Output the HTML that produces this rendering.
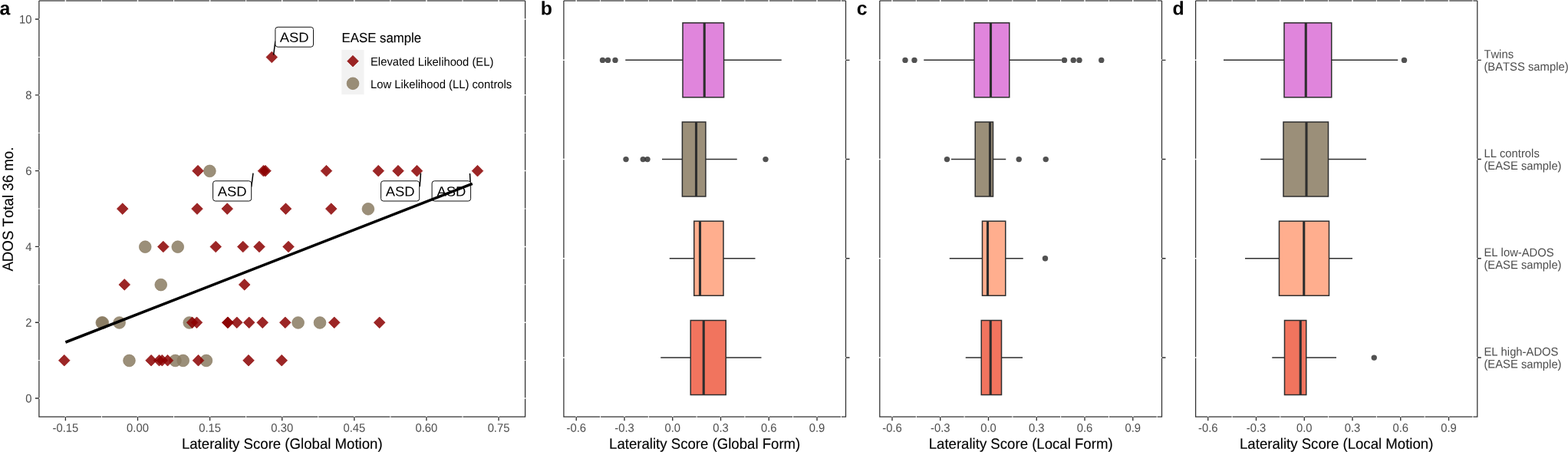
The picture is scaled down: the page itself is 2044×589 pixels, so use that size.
<!DOCTYPE html>
<html lang="en">
<head>
<meta charset="utf-8">
<title>Laterality scores figure</title>
<style>
html,body{margin:0;padding:0;background:#ffffff;}
body{width:2044px;height:589px;overflow:hidden;font-family:"Liberation Sans", Arial, Helvetica, sans-serif;}
svg{display:block;}
text{font-kerning:none;text-rendering:geometricPrecision;}
</style>
</head>
<body>
<svg width="2044" height="589" viewBox="0 0 2044 589" font-family='"Liberation Sans", Arial, Helvetica, sans-serif'>
<rect width="2044" height="589" fill="#ffffff"/>
<g>
<rect x="50.9" y="0" width="633.7" height="2" fill="#808080"/>
<path d="M50.9 1V543.2H684.6V1" fill="none" stroke="#303030" stroke-width="1.25" stroke-linejoin="miter"/>
<g stroke="#ffffff" fill="none"><path d="M132.44 0V544.1" stroke-width="1.0"/><path d="M226.56 0V544.1" stroke-width="1.0"/><path d="M320.66 0V544.1" stroke-width="1.0"/><path d="M414.77 0V544.1" stroke-width="1.0"/><path d="M508.88 0V544.1" stroke-width="1.0"/><path d="M603 0V544.1" stroke-width="1.0"/><path d="M50 469.6H685.5" stroke-width="1.0"/><path d="M50 370.8H685.5" stroke-width="1.0"/><path d="M50 272H685.5" stroke-width="1.0"/><path d="M50 173.2H685.5" stroke-width="1.0"/><path d="M50 74.4H685.5" stroke-width="1.0"/><path d="M85.39 0V544.1" stroke-width="1.5"/><path d="M179.5 0V544.1" stroke-width="1.5"/><path d="M273.61 0V544.1" stroke-width="1.5"/><path d="M367.72 0V544.1" stroke-width="1.5"/><path d="M461.83 0V544.1" stroke-width="1.5"/><path d="M555.94 0V544.1" stroke-width="1.5"/><path d="M650.05 0V544.1" stroke-width="1.5"/><path d="M50 519H685.5" stroke-width="1.5"/><path d="M50 420.2H685.5" stroke-width="1.5"/><path d="M50 321.4H685.5" stroke-width="1.5"/><path d="M50 222.6H685.5" stroke-width="1.5"/><path d="M50 123.8H685.5" stroke-width="1.5"/><path d="M50 25H685.5" stroke-width="1.5"/></g>
<path d="M85.39 543.2V548.2M179.5 543.2V548.2M273.61 543.2V548.2M367.72 543.2V548.2M461.83 543.2V548.2M555.94 543.2V548.2M650.05 543.2V548.2M45.9 519H50.9M45.9 420.2H50.9M45.9 321.4H50.9M45.9 222.6H50.9M45.9 123.8H50.9M45.9 25H50.9" stroke="#303030" stroke-width="1.35" fill="none"/>
<text transform="translate(85.39 562.8) rotate(0.03) scale(1 1.04)" text-anchor="middle" font-size="14.8" fill="#4d4d4d">-0.15</text>
<text transform="translate(179.5 562.8) rotate(0.03) scale(1 1.04)" text-anchor="middle" font-size="14.8" fill="#4d4d4d">0.00</text>
<text transform="translate(273.61 562.8) rotate(0.03) scale(1 1.04)" text-anchor="middle" font-size="14.8" fill="#4d4d4d">0.15</text>
<text transform="translate(367.72 562.8) rotate(0.03) scale(1 1.04)" text-anchor="middle" font-size="14.8" fill="#4d4d4d">0.30</text>
<text transform="translate(461.83 562.8) rotate(0.03) scale(1 1.04)" text-anchor="middle" font-size="14.8" fill="#4d4d4d">0.45</text>
<text transform="translate(555.94 562.8) rotate(0.03) scale(1 1.04)" text-anchor="middle" font-size="14.8" fill="#4d4d4d">0.60</text>
<text transform="translate(650.05 562.8) rotate(0.03) scale(1 1.04)" text-anchor="middle" font-size="14.8" fill="#4d4d4d">0.75</text>
<text transform="translate(367.75 584.75) rotate(0.03) scale(1 1.03)" text-anchor="middle" font-size="18.62" fill="#000" stroke="#000" stroke-width="0.12">Laterality Score (Global Motion)</text>
<text transform="translate(-0.6 19.3) rotate(0.03)" font-size="24.8" font-weight="bold" fill="#000">a</text>
</g>
<text transform="translate(41.5 524.5) rotate(0.03) scale(1 1.04)" text-anchor="end" font-size="14.8" fill="#4d4d4d">0</text>
<text transform="translate(41.5 425.7) rotate(0.03) scale(1 1.04)" text-anchor="end" font-size="14.8" fill="#4d4d4d">2</text>
<text transform="translate(41.5 326.9) rotate(0.03) scale(1 1.04)" text-anchor="end" font-size="14.8" fill="#4d4d4d">4</text>
<text transform="translate(41.5 228.1) rotate(0.03) scale(1 1.04)" text-anchor="end" font-size="14.8" fill="#4d4d4d">6</text>
<text transform="translate(41.5 129.3) rotate(0.03) scale(1 1.04)" text-anchor="end" font-size="14.8" fill="#4d4d4d">8</text>
<text transform="translate(41.5 30.5) rotate(0.03) scale(1 1.04)" text-anchor="end" font-size="14.8" fill="#4d4d4d">10</text>
<text transform="translate(16.9 272.6) rotate(-89.97) scale(1 1.04)" text-anchor="middle" font-size="18.7" fill="#000" stroke="#000" stroke-width="0.12">ADOS Total 36 mo.</text>
<g><circle cx="273.4" cy="222.9" r="7.85" fill="rgba(138,123,98,0.85)" stroke="rgba(138,123,98,0.85)" stroke-width="0.8"/><circle cx="479.9" cy="272.3" r="7.85" fill="rgba(138,123,98,0.85)" stroke="rgba(138,123,98,0.85)" stroke-width="0.8"/><circle cx="189.25" cy="321.7" r="7.85" fill="rgba(138,123,98,0.85)" stroke="rgba(138,123,98,0.85)" stroke-width="0.8"/><circle cx="231.75" cy="321.7" r="7.85" fill="rgba(138,123,98,0.85)" stroke="rgba(138,123,98,0.85)" stroke-width="0.8"/><circle cx="209.75" cy="371.1" r="7.85" fill="rgba(138,123,98,0.85)" stroke="rgba(138,123,98,0.85)" stroke-width="0.8"/><circle cx="132.8" cy="420.5" r="7.85" fill="rgba(138,123,98,0.85)" stroke="rgba(138,123,98,0.85)" stroke-width="0.8"/><circle cx="133.8" cy="420.5" r="7.85" fill="rgba(138,123,98,0.85)" stroke="rgba(138,123,98,0.85)" stroke-width="0.8"/><circle cx="155.6" cy="420.5" r="7.85" fill="rgba(138,123,98,0.85)" stroke="rgba(138,123,98,0.85)" stroke-width="0.8"/><circle cx="246.75" cy="420.5" r="7.85" fill="rgba(138,123,98,0.85)" stroke="rgba(138,123,98,0.85)" stroke-width="0.8"/><circle cx="388.6" cy="420.5" r="7.85" fill="rgba(138,123,98,0.85)" stroke="rgba(138,123,98,0.85)" stroke-width="0.8"/><circle cx="417" cy="420.5" r="7.85" fill="rgba(138,123,98,0.85)" stroke="rgba(138,123,98,0.85)" stroke-width="0.8"/><circle cx="168.5" cy="469.9" r="7.85" fill="rgba(138,123,98,0.85)" stroke="rgba(138,123,98,0.85)" stroke-width="0.8"/><circle cx="228.5" cy="469.9" r="7.85" fill="rgba(138,123,98,0.85)" stroke="rgba(138,123,98,0.85)" stroke-width="0.8"/><circle cx="238.7" cy="469.9" r="7.85" fill="rgba(138,123,98,0.85)" stroke="rgba(138,123,98,0.85)" stroke-width="0.8"/><circle cx="268.9" cy="469.9" r="7.85" fill="rgba(138,123,98,0.85)" stroke="rgba(138,123,98,0.85)" stroke-width="0.8"/><path d="M346.95 74.5L354.3 67.15L361.65 74.5L354.3 81.85Z" fill="rgba(139,0,0,0.85)" stroke="rgba(139,0,0,0.85)" stroke-width="0.7"/><path d="M250.65 222.7L258 215.35L265.35 222.7L258 230.05Z" fill="rgba(139,0,0,0.85)" stroke="rgba(139,0,0,0.85)" stroke-width="0.7"/><path d="M336.15 222.7L343.5 215.35L350.85 222.7L343.5 230.05Z" fill="rgba(139,0,0,0.85)" stroke="rgba(139,0,0,0.85)" stroke-width="0.7"/><path d="M338.65 222.7L346 215.35L353.35 222.7L346 230.05Z" fill="rgba(139,0,0,0.85)" stroke="rgba(139,0,0,0.85)" stroke-width="0.7"/><path d="M418.1 222.7L425.45 215.35L432.8 222.7L425.45 230.05Z" fill="rgba(139,0,0,0.85)" stroke="rgba(139,0,0,0.85)" stroke-width="0.7"/><path d="M485.9 222.7L493.25 215.35L500.6 222.7L493.25 230.05Z" fill="rgba(139,0,0,0.85)" stroke="rgba(139,0,0,0.85)" stroke-width="0.7"/><path d="M511.65 222.7L519 215.35L526.35 222.7L519 230.05Z" fill="rgba(139,0,0,0.85)" stroke="rgba(139,0,0,0.85)" stroke-width="0.7"/><path d="M536.15 222.7L543.5 215.35L550.85 222.7L543.5 230.05Z" fill="rgba(139,0,0,0.85)" stroke="rgba(139,0,0,0.85)" stroke-width="0.7"/><path d="M615.15 222.7L622.5 215.35L629.85 222.7L622.5 230.05Z" fill="rgba(139,0,0,0.85)" stroke="rgba(139,0,0,0.85)" stroke-width="0.7"/><path d="M152.4 272.1L159.75 264.75L167.1 272.1L159.75 279.45Z" fill="rgba(139,0,0,0.85)" stroke="rgba(139,0,0,0.85)" stroke-width="0.7"/><path d="M249.65 272.1L257 264.75L264.35 272.1L257 279.45Z" fill="rgba(139,0,0,0.85)" stroke="rgba(139,0,0,0.85)" stroke-width="0.7"/><path d="M288.9 272.1L296.25 264.75L303.6 272.1L296.25 279.45Z" fill="rgba(139,0,0,0.85)" stroke="rgba(139,0,0,0.85)" stroke-width="0.7"/><path d="M365.15 272.1L372.5 264.75L379.85 272.1L372.5 279.45Z" fill="rgba(139,0,0,0.85)" stroke="rgba(139,0,0,0.85)" stroke-width="0.7"/><path d="M424.4 272.1L431.75 264.75L439.1 272.1L431.75 279.45Z" fill="rgba(139,0,0,0.85)" stroke="rgba(139,0,0,0.85)" stroke-width="0.7"/><path d="M205.45 321.5L212.8 314.15L220.15 321.5L212.8 328.85Z" fill="rgba(139,0,0,0.85)" stroke="rgba(139,0,0,0.85)" stroke-width="0.7"/><path d="M273.9 321.5L281.25 314.15L288.6 321.5L281.25 328.85Z" fill="rgba(139,0,0,0.85)" stroke="rgba(139,0,0,0.85)" stroke-width="0.7"/><path d="M309.4 321.5L316.75 314.15L324.1 321.5L316.75 328.85Z" fill="rgba(139,0,0,0.85)" stroke="rgba(139,0,0,0.85)" stroke-width="0.7"/><path d="M330.65 321.5L338 314.15L345.35 321.5L338 328.85Z" fill="rgba(139,0,0,0.85)" stroke="rgba(139,0,0,0.85)" stroke-width="0.7"/><path d="M368.65 321.5L376 314.15L383.35 321.5L376 328.85Z" fill="rgba(139,0,0,0.85)" stroke="rgba(139,0,0,0.85)" stroke-width="0.7"/><path d="M154.9 370.9L162.25 363.55L169.6 370.9L162.25 378.25Z" fill="rgba(139,0,0,0.85)" stroke="rgba(139,0,0,0.85)" stroke-width="0.7"/><path d="M311.35 370.9L318.7 363.55L326.05 370.9L318.7 378.25Z" fill="rgba(139,0,0,0.85)" stroke="rgba(139,0,0,0.85)" stroke-width="0.7"/><path d="M243.25 420.3L250.6 412.95L257.95 420.3L250.6 427.65Z" fill="rgba(139,0,0,0.85)" stroke="rgba(139,0,0,0.85)" stroke-width="0.7"/><path d="M249.15 420.3L256.5 412.95L263.85 420.3L256.5 427.65Z" fill="rgba(139,0,0,0.85)" stroke="rgba(139,0,0,0.85)" stroke-width="0.7"/><path d="M289.45 420.3L296.8 412.95L304.15 420.3L296.8 427.65Z" fill="rgba(139,0,0,0.85)" stroke="rgba(139,0,0,0.85)" stroke-width="0.7"/><path d="M289.75 420.3L297.1 412.95L304.45 420.3L297.1 427.65Z" fill="rgba(139,0,0,0.85)" stroke="rgba(139,0,0,0.85)" stroke-width="0.7"/><path d="M301.45 420.3L308.8 412.95L316.15 420.3L308.8 427.65Z" fill="rgba(139,0,0,0.85)" stroke="rgba(139,0,0,0.85)" stroke-width="0.7"/><path d="M317.35 420.3L324.7 412.95L332.05 420.3L324.7 427.65Z" fill="rgba(139,0,0,0.85)" stroke="rgba(139,0,0,0.85)" stroke-width="0.7"/><path d="M334.85 420.3L342.2 412.95L349.55 420.3L342.2 427.65Z" fill="rgba(139,0,0,0.85)" stroke="rgba(139,0,0,0.85)" stroke-width="0.7"/><path d="M364.45 420.3L371.8 412.95L379.15 420.3L371.8 427.65Z" fill="rgba(139,0,0,0.85)" stroke="rgba(139,0,0,0.85)" stroke-width="0.7"/><path d="M428.4 420.3L435.75 412.95L443.1 420.3L435.75 427.65Z" fill="rgba(139,0,0,0.85)" stroke="rgba(139,0,0,0.85)" stroke-width="0.7"/><path d="M487.35 420.3L494.7 412.95L502.05 420.3L494.7 427.65Z" fill="rgba(139,0,0,0.85)" stroke="rgba(139,0,0,0.85)" stroke-width="0.7"/><path d="M76.4 469.7L83.75 462.35L91.1 469.7L83.75 477.05Z" fill="rgba(139,0,0,0.85)" stroke="rgba(139,0,0,0.85)" stroke-width="0.7"/><path d="M189.75 469.7L197.1 462.35L204.45 469.7L197.1 477.05Z" fill="rgba(139,0,0,0.85)" stroke="rgba(139,0,0,0.85)" stroke-width="0.7"/><path d="M200.15 469.7L207.5 462.35L214.85 469.7L207.5 477.05Z" fill="rgba(139,0,0,0.85)" stroke="rgba(139,0,0,0.85)" stroke-width="0.7"/><path d="M203.95 469.7L211.3 462.35L218.65 469.7L211.3 477.05Z" fill="rgba(139,0,0,0.85)" stroke="rgba(139,0,0,0.85)" stroke-width="0.7"/><path d="M211.15 469.7L218.5 462.35L225.85 469.7L218.5 477.05Z" fill="rgba(139,0,0,0.85)" stroke="rgba(139,0,0,0.85)" stroke-width="0.7"/><path d="M251.15 469.7L258.5 462.35L265.85 469.7L258.5 477.05Z" fill="rgba(139,0,0,0.85)" stroke="rgba(139,0,0,0.85)" stroke-width="0.7"/><path d="M316.65 469.7L324 462.35L331.35 469.7L324 477.05Z" fill="rgba(139,0,0,0.85)" stroke="rgba(139,0,0,0.85)" stroke-width="0.7"/><path d="M359.9 469.7L367.25 462.35L374.6 469.7L367.25 477.05Z" fill="rgba(139,0,0,0.85)" stroke="rgba(139,0,0,0.85)" stroke-width="0.7"/></g>
<path d="M358.9 53.5L356.6 71.7" stroke="#000" stroke-width="1.5" fill="none"/>
<rect x="358.9" y="35.3" width="49.6" height="25.9" rx="3.2" ry="3.2" fill="#fff" stroke="#111" stroke-width="1.0"/>
<text transform="translate(383.7 54.7) rotate(0.03) scale(1 0.96)" text-anchor="middle" font-size="18.45" fill="#000">ASD</text>
<path d="M327.7 243.5L330 225.6" stroke="#000" stroke-width="1.5" fill="none"/>
<rect x="277.6" y="235.8" width="50.1" height="26.2" rx="3.2" ry="3.2" fill="#fff" stroke="#111" stroke-width="1.0"/>
<text transform="translate(302.65 255.5) rotate(0.03) scale(1 0.96)" text-anchor="middle" font-size="18.45" fill="#000">ASD</text>
<path d="M547.2 243.2L548.5 225.6" stroke="#000" stroke-width="1.5" fill="none"/>
<rect x="496.6" y="235.8" width="50.1" height="26.2" rx="3.2" ry="3.2" fill="#fff" stroke="#111" stroke-width="1.0"/>
<text transform="translate(521.65 255.5) rotate(0.03) scale(1 0.96)" text-anchor="middle" font-size="18.45" fill="#000">ASD</text>
<path d="M613.2 238.5L612.5 226" stroke="#000" stroke-width="1.5" fill="none"/>
<rect x="563.1" y="235.8" width="50.5" height="26.2" rx="3.2" ry="3.2" fill="#fff" stroke="#111" stroke-width="1.0"/>
<text transform="translate(588.35 255.5) rotate(0.03) scale(1 0.96)" text-anchor="middle" font-size="18.45" fill="#000">ASD</text>
<path d="M85.4 446.0L615.8 239.4" stroke="#000" stroke-width="3.5" fill="none"/>
<text transform="translate(445.6 55.1) rotate(0.03) scale(1 1.04)" font-size="16.8" fill="#000" stroke="#000" stroke-width="0.1">EASE sample</text>
<rect x="445.3" y="65.0" width="29.2" height="58.2" fill="#f2f2f2"/>
<path d="M452.65 79.7L460 72.35L467.35 79.7L460 87.05Z" fill="rgba(139,0,0,0.85)" stroke="rgba(139,0,0,0.85)" stroke-width="0.7"/>
<circle cx="460" cy="108.8" r="7.85" fill="rgba(138,123,98,0.85)" stroke="rgba(138,123,98,0.85)" stroke-width="0.8"/>
<text transform="translate(483 85.6) rotate(0.03) scale(1 1.04)" font-size="14.8" fill="#000">Elevated Likelihood (EL)</text>
<text transform="translate(483 114.9) rotate(0.03) scale(1 1.04)" font-size="14.8" fill="#000">Low Likelihood (LL) controls</text>
<g>
<rect x="734.9" y="0" width="367.6" height="2" fill="#808080"/>
<path d="M734.9 1V543.2H1102.5V1" fill="none" stroke="#303030" stroke-width="1.25" stroke-linejoin="miter"/>
<g stroke="#ffffff" fill="none"><path d="M782.61 0V544.1" stroke-width="1.0"/><path d="M845.37 0V544.1" stroke-width="1.0"/><path d="M908.13 0V544.1" stroke-width="1.0"/><path d="M970.89 0V544.1" stroke-width="1.0"/><path d="M1033.65 0V544.1" stroke-width="1.0"/><path d="M1096.41 0V544.1" stroke-width="1.0"/><path d="M751.23 0V544.1" stroke-width="1.5"/><path d="M813.99 0V544.1" stroke-width="1.5"/><path d="M876.75 0V544.1" stroke-width="1.5"/><path d="M939.51 0V544.1" stroke-width="1.5"/><path d="M1002.27 0V544.1" stroke-width="1.5"/><path d="M1065.03 0V544.1" stroke-width="1.5"/><path d="M734 78.3H1103.4" stroke-width="1.5"/><path d="M734 207.5H1103.4" stroke-width="1.5"/><path d="M734 336.7H1103.4" stroke-width="1.5"/><path d="M734 466H1103.4" stroke-width="1.5"/></g>
<path d="M751.23 543.2V548.2M813.99 543.2V548.2M876.75 543.2V548.2M939.51 543.2V548.2M1002.27 543.2V548.2M1065.03 543.2V548.2M1102.5 78.3H1107.5M1102.5 207.5H1107.5M1102.5 336.7H1107.5M1102.5 466H1107.5" stroke="#303030" stroke-width="1.35" fill="none"/>
<text transform="translate(751.23 562.8) rotate(0.03) scale(1 1.04)" text-anchor="middle" font-size="14.8" fill="#4d4d4d">-0.6</text>
<text transform="translate(813.99 562.8) rotate(0.03) scale(1 1.04)" text-anchor="middle" font-size="14.8" fill="#4d4d4d">-0.3</text>
<text transform="translate(876.75 562.8) rotate(0.03) scale(1 1.04)" text-anchor="middle" font-size="14.8" fill="#4d4d4d">0.0</text>
<text transform="translate(939.51 562.8) rotate(0.03) scale(1 1.04)" text-anchor="middle" font-size="14.8" fill="#4d4d4d">0.3</text>
<text transform="translate(1002.27 562.8) rotate(0.03) scale(1 1.04)" text-anchor="middle" font-size="14.8" fill="#4d4d4d">0.6</text>
<text transform="translate(1065.03 562.8) rotate(0.03) scale(1 1.04)" text-anchor="middle" font-size="14.8" fill="#4d4d4d">0.9</text>
<text transform="translate(918.7 584.75) rotate(0.03) scale(1 1.03)" text-anchor="middle" font-size="18.62" fill="#000" stroke="#000" stroke-width="0.12">Laterality Score (Global Form)</text>
<text transform="translate(704.7 19.3) rotate(0.03)" font-size="24.8" font-weight="bold" fill="#000">b</text>
</g>
<circle cx="785.5" cy="78.4" r="3.7" fill="rgba(51,51,51,0.85)"/><circle cx="792.5" cy="78.4" r="3.7" fill="rgba(51,51,51,0.85)"/><circle cx="802" cy="78.4" r="3.7" fill="rgba(51,51,51,0.85)"/><path d="M815.25 78.3H890M943.6 78.3H1018.75" stroke="#2e2e2e" stroke-width="1.5" fill="none"/><rect x="890" y="29.8" width="53.6" height="97" fill="rgba(218,112,214,0.85)" stroke="#2e2e2e" stroke-width="1.5"/><path d="M918.25 29.8V126.8" stroke="#2e2e2e" stroke-width="3.1" fill="none"/>
<circle cx="816" cy="207.6" r="3.7" fill="rgba(51,51,51,0.85)"/><circle cx="838.25" cy="207.6" r="3.7" fill="rgba(51,51,51,0.85)"/><circle cx="844" cy="207.6" r="3.7" fill="rgba(51,51,51,0.85)"/><circle cx="998" cy="207.6" r="3.7" fill="rgba(51,51,51,0.85)"/><path d="M863 207.5H889.4M919.9 207.5H960.75" stroke="#2e2e2e" stroke-width="1.5" fill="none"/><rect x="889.4" y="159" width="30.5" height="97" fill="rgba(138,123,98,0.85)" stroke="#2e2e2e" stroke-width="1.5"/><path d="M907.5 159V256" stroke="#2e2e2e" stroke-width="3.1" fill="none"/>
<path d="M872.75 336.7H904.75M943 336.7H984.5" stroke="#2e2e2e" stroke-width="1.5" fill="none"/><rect x="904.75" y="288.2" width="38.25" height="97" fill="rgba(255,160,122,0.85)" stroke="#2e2e2e" stroke-width="1.5"/><path d="M912.5 288.2V385.2" stroke="#2e2e2e" stroke-width="3.1" fill="none"/>
<path d="M861.25 466H900.25M946.25 466H992.5" stroke="#2e2e2e" stroke-width="1.5" fill="none"/><rect x="900.25" y="417.5" width="46" height="97" fill="rgba(238,92,66,0.85)" stroke="#2e2e2e" stroke-width="1.5"/><path d="M917.25 417.5V514.5" stroke="#2e2e2e" stroke-width="3.1" fill="none"/>
<g>
<rect x="1146.8" y="0" width="367.7" height="2" fill="#808080"/>
<path d="M1146.8 1V543.2H1514.5V1" fill="none" stroke="#303030" stroke-width="1.25" stroke-linejoin="miter"/>
<g stroke="#ffffff" fill="none"><path d="M1194.36 0V544.1" stroke-width="1.0"/><path d="M1257.12 0V544.1" stroke-width="1.0"/><path d="M1319.88 0V544.1" stroke-width="1.0"/><path d="M1382.64 0V544.1" stroke-width="1.0"/><path d="M1445.4 0V544.1" stroke-width="1.0"/><path d="M1508.16 0V544.1" stroke-width="1.0"/><path d="M1162.98 0V544.1" stroke-width="1.5"/><path d="M1225.74 0V544.1" stroke-width="1.5"/><path d="M1288.5 0V544.1" stroke-width="1.5"/><path d="M1351.26 0V544.1" stroke-width="1.5"/><path d="M1414.02 0V544.1" stroke-width="1.5"/><path d="M1476.78 0V544.1" stroke-width="1.5"/><path d="M1145.9 78.3H1515.4" stroke-width="1.5"/><path d="M1145.9 207.5H1515.4" stroke-width="1.5"/><path d="M1145.9 336.7H1515.4" stroke-width="1.5"/><path d="M1145.9 466H1515.4" stroke-width="1.5"/></g>
<path d="M1162.98 543.2V548.2M1225.74 543.2V548.2M1288.5 543.2V548.2M1351.26 543.2V548.2M1414.02 543.2V548.2M1476.78 543.2V548.2M1514.5 78.3H1519.5M1514.5 207.5H1519.5M1514.5 336.7H1519.5M1514.5 466H1519.5" stroke="#303030" stroke-width="1.35" fill="none"/>
<text transform="translate(1162.98 562.8) rotate(0.03) scale(1 1.04)" text-anchor="middle" font-size="14.8" fill="#4d4d4d">-0.6</text>
<text transform="translate(1225.74 562.8) rotate(0.03) scale(1 1.04)" text-anchor="middle" font-size="14.8" fill="#4d4d4d">-0.3</text>
<text transform="translate(1288.5 562.8) rotate(0.03) scale(1 1.04)" text-anchor="middle" font-size="14.8" fill="#4d4d4d">0.0</text>
<text transform="translate(1351.26 562.8) rotate(0.03) scale(1 1.04)" text-anchor="middle" font-size="14.8" fill="#4d4d4d">0.3</text>
<text transform="translate(1414.02 562.8) rotate(0.03) scale(1 1.04)" text-anchor="middle" font-size="14.8" fill="#4d4d4d">0.6</text>
<text transform="translate(1476.78 562.8) rotate(0.03) scale(1 1.04)" text-anchor="middle" font-size="14.8" fill="#4d4d4d">0.9</text>
<text transform="translate(1330.65 584.75) rotate(0.03) scale(1 1.03)" text-anchor="middle" font-size="18.62" fill="#000" stroke="#000" stroke-width="0.12">Laterality Score (Local Form)</text>
<text transform="translate(1116.7 19.3) rotate(0.03)" font-size="24.8" font-weight="bold" fill="#000">c</text>
</g>
<circle cx="1180" cy="78.4" r="3.7" fill="rgba(51,51,51,0.85)"/><circle cx="1192" cy="78.4" r="3.7" fill="rgba(51,51,51,0.85)"/><circle cx="1387.5" cy="78.4" r="3.7" fill="rgba(51,51,51,0.85)"/><circle cx="1399.25" cy="78.4" r="3.7" fill="rgba(51,51,51,0.85)"/><circle cx="1407" cy="78.4" r="3.7" fill="rgba(51,51,51,0.85)"/><circle cx="1435.75" cy="78.4" r="3.7" fill="rgba(51,51,51,0.85)"/><path d="M1204.25 78.3H1270M1315.75 78.3H1383.75" stroke="#2e2e2e" stroke-width="1.5" fill="none"/><rect x="1270" y="29.8" width="45.75" height="97" fill="rgba(218,112,214,0.85)" stroke="#2e2e2e" stroke-width="1.5"/><path d="M1291.5 29.8V126.8" stroke="#2e2e2e" stroke-width="3.1" fill="none"/>
<circle cx="1234.5" cy="207.6" r="3.7" fill="rgba(51,51,51,0.85)"/><circle cx="1328.25" cy="207.6" r="3.7" fill="rgba(51,51,51,0.85)"/><circle cx="1363.25" cy="207.6" r="3.7" fill="rgba(51,51,51,0.85)"/><path d="M1240 207.5H1271.25M1294.5 207.5H1311.25" stroke="#2e2e2e" stroke-width="1.5" fill="none"/><rect x="1271.25" y="159" width="23.25" height="97" fill="rgba(138,123,98,0.85)" stroke="#2e2e2e" stroke-width="1.5"/><path d="M1290.5 159V256" stroke="#2e2e2e" stroke-width="3.1" fill="none"/>
<circle cx="1362.5" cy="336.8" r="3.7" fill="rgba(51,51,51,0.85)"/><path d="M1237.75 336.7H1280.5M1310.75 336.7H1333.75" stroke="#2e2e2e" stroke-width="1.5" fill="none"/><rect x="1280.5" y="288.2" width="30.25" height="97" fill="rgba(255,160,122,0.85)" stroke="#2e2e2e" stroke-width="1.5"/><path d="M1287.5 288.2V385.2" stroke="#2e2e2e" stroke-width="3.1" fill="none"/>
<path d="M1258.75 466H1279.25M1305.5 466H1333" stroke="#2e2e2e" stroke-width="1.5" fill="none"/><rect x="1279.25" y="417.5" width="26.25" height="97" fill="rgba(238,92,66,0.85)" stroke="#2e2e2e" stroke-width="1.5"/><path d="M1291.25 417.5V514.5" stroke="#2e2e2e" stroke-width="3.1" fill="none"/>
<g>
<rect x="1558.6" y="0" width="367.2" height="2" fill="#808080"/>
<path d="M1558.6 1V543.2H1925.8V1" fill="none" stroke="#303030" stroke-width="1.25" stroke-linejoin="miter"/>
<g stroke="#ffffff" fill="none"><path d="M1606.11 0V544.1" stroke-width="1.0"/><path d="M1668.87 0V544.1" stroke-width="1.0"/><path d="M1731.63 0V544.1" stroke-width="1.0"/><path d="M1794.39 0V544.1" stroke-width="1.0"/><path d="M1857.15 0V544.1" stroke-width="1.0"/><path d="M1919.91 0V544.1" stroke-width="1.0"/><path d="M1574.73 0V544.1" stroke-width="1.5"/><path d="M1637.49 0V544.1" stroke-width="1.5"/><path d="M1700.25 0V544.1" stroke-width="1.5"/><path d="M1763.01 0V544.1" stroke-width="1.5"/><path d="M1825.77 0V544.1" stroke-width="1.5"/><path d="M1888.53 0V544.1" stroke-width="1.5"/><path d="M1557.7 78.3H1926.7" stroke-width="1.5"/><path d="M1557.7 207.5H1926.7" stroke-width="1.5"/><path d="M1557.7 336.7H1926.7" stroke-width="1.5"/><path d="M1557.7 466H1926.7" stroke-width="1.5"/></g>
<path d="M1574.73 543.2V548.2M1637.49 543.2V548.2M1700.25 543.2V548.2M1763.01 543.2V548.2M1825.77 543.2V548.2M1888.53 543.2V548.2M1925.8 78.3H1930.8M1925.8 207.5H1930.8M1925.8 336.7H1930.8M1925.8 466H1930.8" stroke="#303030" stroke-width="1.35" fill="none"/>
<text transform="translate(1574.73 562.8) rotate(0.03) scale(1 1.04)" text-anchor="middle" font-size="14.8" fill="#4d4d4d">-0.6</text>
<text transform="translate(1637.49 562.8) rotate(0.03) scale(1 1.04)" text-anchor="middle" font-size="14.8" fill="#4d4d4d">-0.3</text>
<text transform="translate(1700.25 562.8) rotate(0.03) scale(1 1.04)" text-anchor="middle" font-size="14.8" fill="#4d4d4d">0.0</text>
<text transform="translate(1763.01 562.8) rotate(0.03) scale(1 1.04)" text-anchor="middle" font-size="14.8" fill="#4d4d4d">0.3</text>
<text transform="translate(1825.77 562.8) rotate(0.03) scale(1 1.04)" text-anchor="middle" font-size="14.8" fill="#4d4d4d">0.6</text>
<text transform="translate(1888.53 562.8) rotate(0.03) scale(1 1.04)" text-anchor="middle" font-size="14.8" fill="#4d4d4d">0.9</text>
<text transform="translate(1742.2 584.75) rotate(0.03) scale(1 1.03)" text-anchor="middle" font-size="18.62" fill="#000" stroke="#000" stroke-width="0.12">Laterality Score (Local Motion)</text>
<text transform="translate(1528.5 19.3) rotate(0.03)" font-size="24.8" font-weight="bold" fill="#000">d</text>
</g>
<circle cx="1830.5" cy="78.4" r="3.7" fill="rgba(51,51,51,0.85)"/><path d="M1595 78.3H1674M1735.75 78.3H1822.25" stroke="#2e2e2e" stroke-width="1.5" fill="none"/><rect x="1674" y="29.8" width="61.75" height="97" fill="rgba(218,112,214,0.85)" stroke="#2e2e2e" stroke-width="1.5"/><path d="M1702.25 29.8V126.8" stroke="#2e2e2e" stroke-width="3.1" fill="none"/>
<path d="M1643.25 207.5H1673M1731.5 207.5H1781" stroke="#2e2e2e" stroke-width="1.5" fill="none"/><rect x="1673" y="159" width="58.5" height="97" fill="rgba(138,123,98,0.85)" stroke="#2e2e2e" stroke-width="1.5"/><path d="M1703 159V256" stroke="#2e2e2e" stroke-width="3.1" fill="none"/>
<path d="M1623 336.7H1667.5M1732.5 336.7H1763" stroke="#2e2e2e" stroke-width="1.5" fill="none"/><rect x="1667.5" y="288.2" width="65" height="97" fill="rgba(255,160,122,0.85)" stroke="#2e2e2e" stroke-width="1.5"/><path d="M1699.75 288.2V385.2" stroke="#2e2e2e" stroke-width="3.1" fill="none"/>
<circle cx="1791.25" cy="466.1" r="3.7" fill="rgba(51,51,51,0.85)"/><path d="M1658.25 466H1674.5M1702.75 466H1742" stroke="#2e2e2e" stroke-width="1.5" fill="none"/><rect x="1674.5" y="417.5" width="28.25" height="97" fill="rgba(238,92,66,0.85)" stroke="#2e2e2e" stroke-width="1.5"/><path d="M1695.25 417.5V514.5" stroke="#2e2e2e" stroke-width="3.1" fill="none"/>
<text transform="translate(1934.4 75.7) rotate(0.03) scale(1 1.04)" font-size="14.8" fill="#4d4d4d">Twins</text>
<text transform="translate(1934.4 91.9) rotate(0.03) scale(1 1.04)" font-size="14.8" fill="#4d4d4d">(BATSS sample)</text>
<text transform="translate(1934.4 204.9) rotate(0.03) scale(1 1.04)" font-size="14.8" fill="#4d4d4d">LL controls</text>
<text transform="translate(1934.4 221.1) rotate(0.03) scale(1 1.04)" font-size="14.8" fill="#4d4d4d">(EASE sample)</text>
<text transform="translate(1934.4 334.1) rotate(0.03) scale(1 1.04)" font-size="14.8" fill="#4d4d4d">EL low-ADOS</text>
<text transform="translate(1934.4 350.3) rotate(0.03) scale(1 1.04)" font-size="14.8" fill="#4d4d4d">(EASE sample)</text>
<text transform="translate(1934.4 463.4) rotate(0.03) scale(1 1.04)" font-size="14.8" fill="#4d4d4d">EL high-ADOS</text>
<text transform="translate(1934.4 479.6) rotate(0.03) scale(1 1.04)" font-size="14.8" fill="#4d4d4d">(EASE sample)</text>
</svg>
</body>
</html>
